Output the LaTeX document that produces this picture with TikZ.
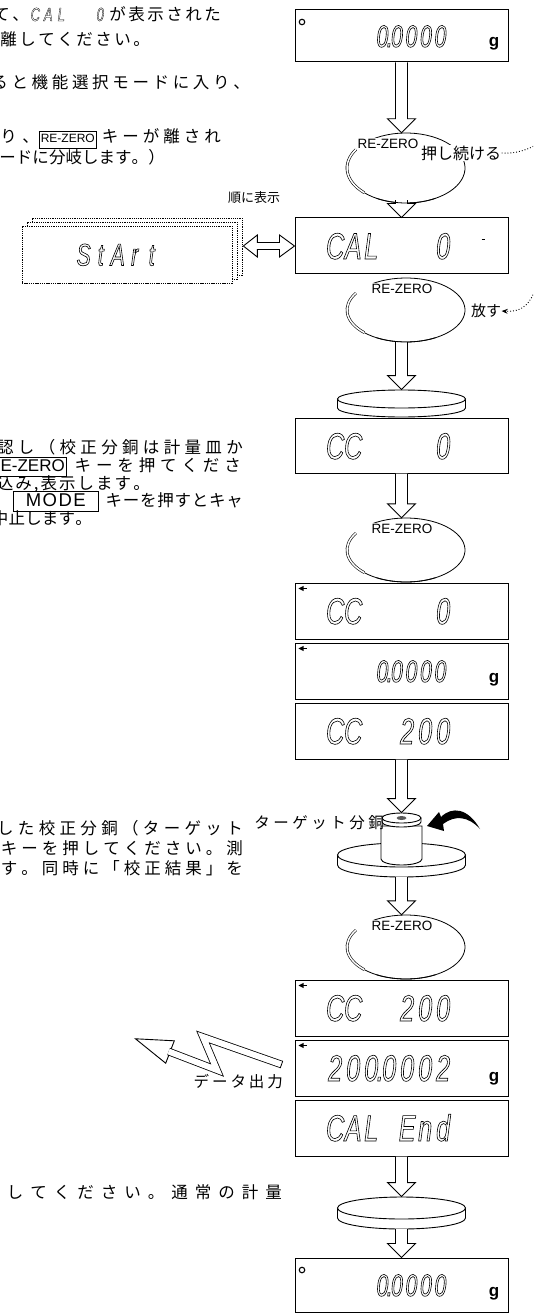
\documentclass[tikz,border=0pt]{standalone}
\usepackage{fontspec}
\usepackage{graphicx}
\usetikzlibrary{calc,arrows.meta,shapes.geometric}

\newfontfamily\jpfont{Noto Sans CJK JP}
\newfontfamily\segfont{Liberation Sans}[FakeStretch=0.68]
\newfontfamily\keyfont{Liberation Sans}

\newcommand\jpsize{\fontsize{16.5}{19}\selectfont}

% seven-segment style readout: every character sits in a cell of fixed pitch,
% the decimal point takes no cell of its own; glyphs are stroked, not filled
\newlength\segpitch
\def\segrun#1{\ifx#1\relax\else\segchar#1\expandafter\segrun\fi}
\def\segchar#1{\ifx#1.\makebox[0pt]{.}\else\makebox[\segpitch]{#1}\fi}
% #1 size, #2 cell pitch, #3 outline width, #4 characters
\newcommand\segtxtw[4]{{\segfont\itshape\fontsize{#1}{#1}\selectfont\setlength\segpitch{#2}%
  \special{pdf:literal direct 1 Tr #3 w}\segrun#4\relax\special{pdf:literal direct 0 Tr}}}
\newcommand\segtxt[3]{\segtxtw{#1}{#2}{0.6}{#3}}

% a line of Japanese text spread evenly over a given width
\def\jrun#1{\ifx#1\relax\else\hfill#1\expandafter\jrun\fi}
\newcommand\jline[2]{\makebox[#1][l]{\jrun#2\relax}}

% key name in a frame, as printed in the running text
\newcommand\keybox[2]{{\setlength\fboxsep{1.2pt}\setlength\fboxrule{0.8pt}\fbox{\keyfont\fontsize{#1}{#1}\selectfont\rule[-3.5pt]{0pt}{13.5pt}#2}}}

\tikzset{
  disp/.style={draw, line width=1pt, minimum width=213pt, minimum height=56pt, inner sep=0pt},
  hollow/.style={draw, line width=0.9pt, fill=white, line join=miter},
  jtext/.style={anchor=base east, inner sep=0pt, font=\jpfont\jpsize},
  segnode/.style={anchor=base west, inner sep=0pt},
  gunit/.style={anchor=base, inner sep=0pt, font=\keyfont\bfseries\fontsize{17}{17}\selectfont},
  zerodot/.style={circle, draw, line width=1.1pt, inner sep=0pt, minimum size=5.5pt},
  keylabel/.style={fill=white, inner sep=0.8pt, font=\keyfont\fontsize{13.5}{13.5}\selectfont},
  startbox/.style={draw, dash pattern=on 1.3pt off 0.9pt, line width=0.7pt, fill=white,
                   minimum width=210pt, minimum height=57pt, inner sep=0pt},
  loopthin/.style={line width=0.8pt},
  loopdouble/.style={double, double distance=1.5pt, line width=0.6pt},
  panline/.style={line width=0.9pt},
  sidenote/.style={inner sep=0.5pt, font=\jpfont\fontsize{16}{16}\selectfont},
}

% hollow down arrow from #1 (shaft top) to #2 (tip)
\newcommand\harrow[2]{%
  \draw[hollow] let \p1=#1, \p2=#2 in
    (\x1-6pt,\y1) -- (\x1-6pt,\y2+14pt) -- (\x1-14pt,\y2+14pt) -- (\x1,\y2)
    -- (\x1+14pt,\y2+14pt) -- (\x1+6pt,\y2+14pt) -- (\x1+6pt,\y1);}

% RE-ZERO key loop: name, centre x, centre y, half height, label shift
\newcommand\rzloop[5]{%
  \node[ellipse, minimum width=118pt, minimum height=2*#4, inner sep=0pt] (#1) at (#2,#3) {};
  \draw[loopthin] (#1.center) ++(-126:59 and #4) arc[start angle=-126, end angle=135, x radius=59, y radius=#4];
  \draw[loopdouble] (#1.center) ++(135:59 and #4) arc[start angle=135, end angle=212, x radius=59, y radius=#4];
  \node[keylabel] (#1-lab) at ($(#1.north)+(#5,11)$) {RE-ZERO};}

% weighing pan: name, centre x, centre y of top face, half height of top face, rim thickness
\newcommand\weighpan[5]{%
  \draw[panline, fill=white] (#2-64,#3) -- (#2-64,#3+#5)
     arc[start angle=180, end angle=0, x radius=64, y radius=#4] -- (#2+64,#3) -- cycle;
  \node[ellipse, draw, panline, fill=white, minimum width=128pt, minimum height=2*#4, inner sep=0pt] (#1) at (#2,#3) {};
  \coordinate (#1-b) at (#2,#3+#5+#4);}

% stability mark in the upper left corner of a readout
\newcommand\stabmark[1]{%
  \fill ($(#1.north west)+(4,6)$) -- ++(5,-2.6) -- ++(0,5.2) -- cycle;
  \draw[line width=1.3pt] ($(#1.north west)+(8,6)$) -- ++(4,0);}

\begin{document}
\begin{tikzpicture}[x=1pt,y=-1pt]
\useasboundingbox (0,0) rectangle (533,1313);
\fill[white] (0,0) rectangle (533,1313);
\begin{scope}
\clip (0,0) rectangle (533,1313);

% ---------------- running text ----------------
\node[jtext] (t1) at (221,21) {\jline{38pt}{て、}\segtxtw{19}{13pt}{0.3}{CAL~~0}\jline{114pt}{が表示された}};
\node[jtext] (t2) at (150,46) {\jline{152pt}{離してください。}};
\node[jtext] (t3) at (250,89) {\jline{262pt}{ると機能選択モードに入り、}};
\node[jtext] (t4) at (221,143) {\jline{44pt}{り、}\keybox{12}{RE-ZERO}\hspace{1pt}\jline{123pt}{キーが離され}};
\node[jtext] (t5) at (165,164) {\jline{182pt}{モードに分岐します。）}};

\node[jtext] (m1) at (243,453) {\jline{250pt}{認し（校正分銅は計量皿か}};
\node[jtext] (m2) at (241,471) {\keybox{17}{RE-ZERO}\hspace{3pt}\jline{171pt}{キーを押てくださ}};
\node[jtext] (m3) at (150,489) {\jline{155pt}{込み,表示します。}};
\node[jtext] (m4) at (243,506) {\keybox{18.5}{\hspace{11pt}M\kern1.5pt O\kern1.5pt D\kern1.5pt E\hspace{11pt}}\hspace{6pt}\jline{138pt}{キーを押すとキャ}};
\node[jtext] (m5) at (92,524) {\jline{100pt}{中止します。}};

\node[jtext] (n1) at (243,834) {\jline{250pt}{した校正分銅（ターゲット}};
\node[jtext] (n2) at (243,854) {\jline{246pt}{キーを押してください。測}};
\node[jtext] (n3) at (243,874) {\jline{246pt}{す。同時に「校正結果」を}};
\node[jtext] (n4) at (282,1198) {\jline{282pt}{してください。通常の計量}};

% ---------------- readouts ----------------
\node[disp, minimum height=52pt] (b1) at (401.5,36) {};
\node[zerodot] (b1o) at (302,22) {};
\node[segnode] (b1d) at (375,47) {\segtxt{31}{14.5pt}{0.0000}};
\node[gunit] (b1g) at (494,47) {g};

\node[disp] (b2) at (401.5,246) {};
\node[segnode] (b2d) at (326,259) {\segtxt{37}{18pt}{CAL~~~0}};
\draw[line width=1pt] ($(b2.north east)+(-27,22)$) -- ++(3,0);

\node[startbox] (st2) at (137,246.5) {};
\node[startbox] (st1) at (132,250.5) {};
\node[startbox] (st0) at (127,254.5) {};
\node[segnode] (st0d) at (75,265.5) {\segtxt{31}{17pt}{StArt}};
\node[inner sep=0pt, font=\jpfont\fontsize{13}{13}\selectfont] (order) at (254,198) {順に表示};
\draw[hollow] let \p1=(st2.east), \p2=(b2.west) in
  (\x1+1pt,\y2) -- (\x1+15pt,\y2+11pt) -- (\x1+15pt,\y2+3.5pt) -- (\x2-15pt,\y2+3.5pt)
  -- (\x2-15pt,\y2+11pt) -- (\x2,\y2) -- (\x2-15pt,\y2-11pt) -- (\x2-15pt,\y2-3.5pt)
  -- (\x1+15pt,\y2-3.5pt) -- (\x1+15pt,\y2-11pt) -- cycle;

\node[disp, minimum height=55pt] (b3) at (401.5,445.5) {};
\node[segnode] (b3d) at (326,459) {\segtxt{37}{18pt}{CC~~~~0}};

\node[disp] (b4) at (401.5,611) {};
\stabmark{b4}
\node[segnode] (b4d) at (326,624) {\segtxt{37}{18pt}{CC~~~~0}};

\node[disp] (b5) at (401.5,671) {};
\stabmark{b5}
\node[segnode] (b5d) at (375,682) {\segtxt{31}{14.5pt}{0.0000}};
\node[gunit] (b5g) at (494,682) {g};

\node[disp] (b6) at (401.5,731) {};
\node[segnode] (b6d) at (326,744) {\segtxt{37}{18pt}{CC~~200}};

\node[disp] (b7) at (401.5,1008) {};
\stabmark{b7}
\node[segnode] (b7d) at (326,1021) {\segtxt{37}{18pt}{CC~~200}};

\node[disp] (b8) at (401.5,1068) {};
\stabmark{b8}
\node[segnode] (b8d) at (326,1081) {\segtxt{37}{18pt}{200.0002}};
\node[gunit] (b8g) at (494,1081) {g};

\node[disp] (b9) at (401.5,1128) {};
\node[segnode] (b9d) at (326,1141) {\segtxt{37}{18pt}{CAL~End}};

\node[disp, minimum height=54pt] (b10) at (401.5,1285) {};
\node[zerodot] (b10o) at (302,1270) {};
\node[segnode] (b10d) at (375,1296) {\segtxt{31}{14.5pt}{0.0000}};
\node[gunit] (b10g) at (494,1296) {g};

% ---------------- key loops ----------------
\rzloop{l1}{406}{168}{35}{-18}
\rzloop{l2}{406}{310}{32}{-4}
\rzloop{l3}{406}{550}{32}{-4}
\rzloop{l4}{406}{947}{32}{-4}

\node[sidenote, fill=white] (push) at (461,153) {押し続ける};
\draw[dotted, line width=0.9pt] (push.east) .. controls (515,154) and (526,150) .. (534,146);
\node[sidenote, font=\jpfont\fontsize{15}{15}\selectfont] (release) at (486,311) {放す};
\draw[dotted, line width=0.9pt, -{Stealth[length=6pt,width=5pt]}]
  (534,292) .. controls (528,308) and (518,312) .. (release.east);

% ---------------- pans and weight ----------------
\weighpan{pan1}{401.5}{399}{9}{9}
\weighpan{pan2}{401.5}{855}{12}{10}
\weighpan{pan3}{401.5}{1208}{11}{10}

% target weight standing on the second pan
\draw[panline, fill=white] (381,826) -- (381,859)
   arc[start angle=180, end angle=0, x radius=20.5, y radius=6] -- (422,826) -- cycle;
\draw[panline, fill=white] (382,818) -- (382,822)
   arc[start angle=180, end angle=0, x radius=19.5, y radius=5] -- (421,818) -- cycle;
\node[ellipse, draw, panline, fill=white, minimum width=39pt, minimum height=10pt, inner sep=0pt] (wcap) at (401.5,818) {};
\fill[black!65] (wcap.center) ellipse[x radius=5, y radius=2];
\node[jtext, font=\jpfont\fontsize{15.5}{15.5}\selectfont] (wlabel) at (384,828) {\jline{133pt}{ターゲット分銅}};
% black turning arrow beside the weight
\fill (427,826) -- (439,812) -- (441,817) .. controls (452,806) and (468,808) .. (480,829)
      .. controls (468,816) and (455,815) .. (443,824) -- (444,831) -- cycle;

% ---------------- flow arrows ----------------
\harrow{(b1.south)}{(b1.south |- l1.north)}
\harrow{($(b2.north |- l1.south)+(0,-3)$)}{(b2.north)}
\harrow{(b2.south |- l2.south)}{(pan1.north)}
\harrow{(b3.south)}{(b3.south |- l3.north)}
\harrow{(b6.south)}{(wcap.north)}
\harrow{(pan2-b)}{(b7.north |- l4.north)}
\harrow{(b9.south)}{(pan3.north)}
\harrow{(pan3-b)}{(b10.north)}

% redraw the loop outlines over the arrow shafts
\foreach \L/\ry in {l1/35,l2/32,l3/32,l4/32}{
  \draw[loopthin] (\L.center) ++(60:59 and \ry) arc[start angle=60, end angle=120, x radius=59, y radius=\ry];
}

% ---------------- data output ----------------
\coordinate (zR) at (281.5,1064.5);
\coordinate (zT) at (203,1037);
\coordinate (zB) at (217,1070);
\coordinate (zH) at (170,1052);
\draw[hollow] ($(zH)!12pt!90:(zB)$) -- ($(zH)!-37pt!(zB)$) -- ($(zH)!12pt!-90:(zB)$) -- cycle;
\draw[line width=0.8pt, double, double distance=6pt, line join=miter]
  ($(zH)!-1.5pt!(zB)$) -- (zB) -- (zT) -- (zR);
\draw[line width=0.8pt] ($(zR)!3.8pt!90:(zT)$) -- ($(zR)!3.8pt!-90:(zT)$);
\node[jtext, font=\jpfont\fontsize{15.5}{15.5}\selectfont] (dout) at (283,1087) {\jline{92pt}{データ出力}};

\end{scope}
\end{tikzpicture}
\end{document}
